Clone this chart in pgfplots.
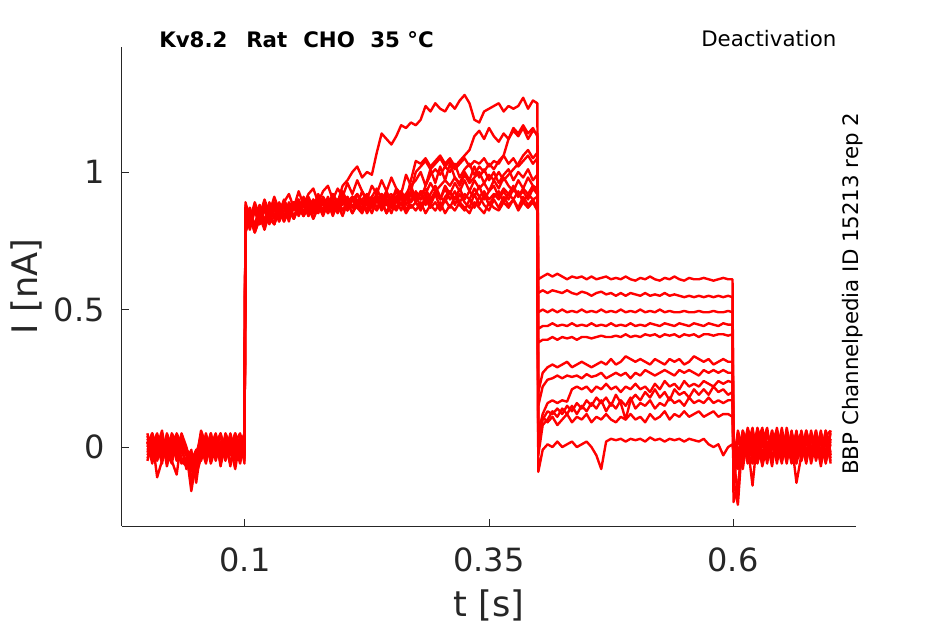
\documentclass[border=0pt]{standalone}
\usepackage{fontspec}
\setmainfont{DejaVu Sans}
\usepackage{pgfplots}
\usepackage{pgfplotstable}
\pgfplotsset{compat=1.18}
\definecolor{axgray}{RGB}{38,38,38}

\pgfplotstableread{
t y1 y2 y3 y4 y5 y6 y7 y8 y9 y10 y11 y12
0.000 0.03 -0.02 0.05 0.01 -0.04 0.02 -0.01 0.04 -0.03 0.00 0.02 -0.05
0.005 -0.01 0.04 -0.03 0.05 0.00 -0.06 0.03 -0.02 0.01 0.05 -0.04 0.02
0.010 0.02 -0.05 0.01 -0.02 0.04 0.03 -0.11 0.00 0.05 -0.03 0.01 -0.01
0.015 -0.04 0.01 0.04 -0.03 0.02 -0.01 -0.05 0.06 -0.02 0.03 -0.06 0.04
0.020 0.05 -0.03 -0.02 0.03 -0.05 0.04 0.00 -0.04 0.02 -0.01 0.03 -0.07
0.025 0.00 0.05 -0.06 0.02 0.03 -0.03 0.04 0.01 -0.05 0.04 -0.02 0.01
0.030 -0.02 0.02 0.03 -0.05 -0.01 0.05 -0.03 0.03 -0.10 0.01 0.04 -0.03
0.035 0.04 -0.04 0.00 0.04 -0.06 0.01 0.05 -0.02 0.03 -0.05 0.00 0.02
0.040 -0.03 -0.06 -0.02 -0.01 -0.04 -0.08 0.00 -0.05 -0.02 -0.07 -0.03 -0.01
0.045 -0.06 -0.02 -0.09 -0.04 -0.12 -0.03 -0.07 -0.01 -0.16 -0.05 -0.08 -0.03
0.050 -0.02 -0.08 -0.04 -0.10 -0.03 -0.06 -0.02 -0.13 -0.05 -0.01 -0.07 -0.04
0.055 0.03 -0.01 0.05 -0.04 0.02 0.04 -0.03 0.00 0.06 -0.02 0.01 -0.05
0.060 -0.05 0.03 -0.02 0.05 -0.01 -0.04 0.04 -0.06 0.01 0.03 -0.03 0.02
0.065 0.01 -0.04 0.04 -0.02 0.05 0.00 -0.05 0.03 -0.03 -0.06 0.05 -0.01
0.070 0.04 0.01 -0.05 0.03 -0.03 0.05 0.02 -0.02 0.04 0.00 -0.04 0.03
0.075 -0.03 0.05 0.02 -0.06 0.01 -0.02 -0.04 0.05 -0.07 0.04 0.02 -0.05
0.080 0.02 -0.02 -0.04 0.04 -0.05 0.03 0.05 -0.03 0.02 -0.04 0.00 0.04
0.085 -0.01 0.04 0.03 -0.03 0.04 -0.07 0.01 0.02 -0.01 0.05 -0.06 0.00
0.090 0.05 -0.05 0.01 0.02 -0.02 0.04 -0.03 -0.04 0.05 -0.02 0.03 -0.08
0.095 -0.02 0.02 -0.06 0.05 0.03 -0.01 0.04 0.01 -0.04 0.02 -0.05 0.03
0.0995 0.03 -0.04 0.02 -0.02 -0.05 0.04 -0.01 0.05 0.00 -0.03 0.04 -0.06
0.1005 0.89 0.82 0.79 0.88 0.78 0.87 0.83 0.80 0.86 0.78 0.85 0.81
0.105 0.83 0.87 0.84 0.81 0.85 0.82 0.87 0.84 0.81 0.83 0.79 0.84
0.110 0.87 0.80 0.86 0.86 0.79 0.89 0.80 0.78 0.88 0.80 0.86 0.78
0.115 0.84 0.88 0.81 0.83 0.86 0.84 0.88 0.83 0.83 0.84 0.81 0.83
0.120 0.89 0.82 0.87 0.88 0.81 0.90 0.82 0.86 0.87 0.79 0.87 0.80
0.125 0.83 0.87 0.83 0.84 0.85 0.85 0.89 0.81 0.82 0.85 0.82 0.85
0.130 0.88 0.83 0.81 0.87 0.87 0.91 0.84 0.87 0.89 0.81 0.88 0.81
0.135 0.85 0.89 0.87 0.82 0.82 0.86 0.88 0.83 0.84 0.87 0.83 0.86
0.140 0.90 0.84 0.83 0.89 0.86 0.89 0.83 0.88 0.88 0.82 0.89 0.82
0.145 0.86 0.88 0.88 0.85 0.88 0.92 0.89 0.82 0.83 0.86 0.84 0.87
0.150 0.89 0.83 0.84 0.88 0.83 0.87 0.86 0.89 0.89 0.83 0.87 0.83
0.155 0.86 0.89 0.87 0.90 0.87 0.93 0.90 0.84 0.85 0.88 0.85 0.88
0.160 0.91 0.85 0.89 0.85 0.84 0.88 0.85 0.88 0.90 0.84 0.89 0.84
0.165 0.87 0.90 0.84 0.89 0.89 0.92 0.91 0.85 0.85 0.89 0.84 0.87
0.170 0.90 0.85 0.88 0.86 0.85 0.94 0.87 0.90 0.89 0.83 0.88 0.83
0.175 0.87 0.89 0.90 0.91 0.88 0.89 0.92 0.85 0.86 0.87 0.86 0.88
0.180 0.91 0.86 0.85 0.88 0.90 0.93 0.88 0.89 0.90 0.85 0.90 0.84
0.185 0.88 0.91 0.89 0.86 0.85 0.95 0.87 0.86 0.85 0.89 0.86 0.89
0.190 0.92 0.86 0.87 0.90 0.89 0.90 0.92 0.90 0.89 0.84 0.88 0.85
0.195 0.89 0.90 0.90 0.87 0.86 0.94 0.88 0.86 0.86 0.89 0.85 0.88
0.200 0.95 0.88 0.86 0.91 0.90 0.91 0.93 0.91 0.90 0.86 0.90 0.84
0.205 0.97 0.91 0.89 0.87 0.87 0.96 0.89 0.87 0.86 0.89 0.86 0.89
0.210 1.00 0.87 0.91 0.90 0.91 0.92 0.91 0.91 0.91 0.85 0.90 0.85
0.215 1.02 0.92 0.87 0.92 0.88 0.97 0.88 0.88 0.87 0.90 0.87 0.88
0.220 0.98 0.89 0.90 0.88 0.86 0.93 0.93 0.87 0.90 0.86 0.85 0.90
0.225 1.00 0.86 0.92 0.91 0.91 0.90 0.89 0.92 0.86 0.89 0.89 0.85
0.230 0.99 0.91 0.88 0.89 0.87 0.95 0.91 0.88 0.91 0.85 0.87 0.88
0.235 1.07 0.89 0.91 0.92 0.90 0.92 0.94 0.91 0.87 0.90 0.91 0.86
0.240 1.14 0.92 0.88 0.87 0.92 0.97 0.90 0.87 0.90 0.86 0.88 0.89
0.245 1.12 0.88 0.92 0.91 0.88 0.93 0.93 0.92 0.85 0.89 0.90 0.85
0.250 1.10 0.91 0.89 0.92 0.91 0.98 0.89 0.88 0.90 0.85 0.87 0.88
0.255 1.13 0.89 0.93 0.89 0.89 0.94 0.94 0.91 0.87 0.90 0.91 0.86
0.260 1.17 0.92 0.90 0.93 0.92 0.92 0.90 0.93 0.91 0.86 0.88 0.89
0.265 1.16 0.90 0.92 0.90 0.90 0.99 0.92 0.88 0.86 0.91 0.92 0.85
0.270 1.18 0.97 0.89 0.93 0.93 0.95 0.95 0.92 0.90 0.87 0.89 0.88
0.275 1.17 1.04 0.92 1.00 0.89 0.97 0.90 0.89 0.92 0.89 0.93 0.86
0.280 1.19 1.03 0.90 1.02 0.92 1.00 0.93 0.93 0.87 0.86 0.90 0.89
0.285 1.24 1.05 0.95 1.04 0.94 0.95 0.92 0.88 0.91 0.90 0.92 0.85
0.290 1.22 1.02 0.99 1.01 0.90 1.01 0.96 0.92 0.88 0.87 0.89 0.88
0.295 1.25 1.04 1.01 1.03 0.93 0.96 0.93 0.95 0.92 0.89 0.93 0.86
0.300 1.23 1.06 0.99 1.05 0.95 1.02 0.90 0.91 0.87 0.86 0.90 0.89
0.305 1.22 1.03 1.02 1.02 0.97 0.97 0.95 0.89 0.91 0.90 0.94 0.85
0.310 1.25 1.05 1.00 1.04 0.95 1.03 0.92 0.93 0.93 0.87 0.90 0.88
0.315 1.23 1.02 1.03 1.01 0.98 0.98 0.96 0.90 0.88 0.91 0.93 0.86
0.320 1.26 1.04 0.98 1.03 0.95 0.96 0.93 0.94 0.92 0.88 0.89 0.89
0.325 1.28 1.06 1.01 1.05 0.99 1.00 0.97 0.90 0.89 0.86 0.92 0.87
0.330 1.25 1.08 1.03 1.02 0.96 0.97 0.93 0.93 0.87 0.90 0.90 0.85
0.335 1.19 1.13 0.99 1.04 0.98 1.02 0.97 0.91 0.92 0.87 0.94 0.89
0.340 1.18 1.15 1.02 1.03 1.00 0.98 0.94 0.95 0.88 0.91 0.91 0.87
0.345 1.22 1.12 1.00 1.05 0.96 1.01 0.96 0.90 0.92 0.88 0.93 0.85
0.350 1.23 1.16 1.03 1.02 0.99 0.97 0.93 0.93 0.88 0.86 0.90 0.89
0.355 1.24 1.13 1.01 1.04 0.97 1.00 0.97 0.95 0.91 0.90 0.92 0.87
0.360 1.25 1.11 1.04 1.03 1.00 0.96 0.94 0.91 0.93 0.87 0.90 0.86
0.365 1.22 1.14 1.06 1.06 0.97 0.99 0.98 0.94 0.89 0.91 0.93 0.89
0.370 1.24 1.12 1.12 1.03 0.99 1.01 0.95 0.92 0.92 0.88 0.90 0.87
0.375 1.23 1.15 1.16 1.05 1.01 0.97 0.93 0.95 0.90 0.90 0.94 0.90
0.380 1.24 1.13 1.14 1.02 1.03 1.00 0.97 0.91 0.93 0.87 0.91 0.86
0.385 1.27 1.16 1.17 1.04 1.06 0.98 0.94 0.94 0.89 0.91 0.93 0.89
0.390 1.23 1.12 1.14 1.06 1.08 1.01 0.98 0.92 0.92 0.88 0.90 0.87
0.395 1.26 1.15 1.16 1.03 1.05 0.97 0.95 0.95 0.90 0.90 0.94 0.89
0.3995 1.25 1.14 1.13 1.05 1.07 0.99 0.94 0.92 0.91 0.87 0.92 0.86
0.4005 0.61 0.56 0.49 0.43 0.38 0.20 0.15 0.05 0.00 -0.03 0.02 -0.09
0.405 0.62 0.57 0.50 0.44 0.39 0.27 0.22 0.12 0.10 0.08 0.11 -0.01
0.410 0.63 0.56 0.49 0.44 0.39 0.29 0.245 0.16 0.13 0.10 0.09 0.01
0.415 0.62 0.57 0.50 0.45 0.40 0.30 0.25 0.17 0.12 0.13 0.11 0.00
0.420 0.63 0.565 0.49 0.44 0.39 0.29 0.26 0.16 0.14 0.11 0.08 0.02
0.425 0.62 0.56 0.50 0.445 0.40 0.30 0.25 0.17 0.12 0.14 0.10 0.00
0.430 0.61 0.57 0.49 0.44 0.395 0.31 0.26 0.165 0.15 0.12 0.12 0.01
0.435 0.62 0.56 0.495 0.45 0.40 0.29 0.255 0.21 0.13 0.15 0.09 0.02
0.440 0.615 0.555 0.49 0.44 0.39 0.30 0.26 0.22 0.16 0.12 0.11 0.00
0.445 0.62 0.565 0.50 0.445 0.40 0.31 0.25 0.21 0.14 0.15 0.10 0.01
0.450 0.61 0.56 0.49 0.44 0.40 0.30 0.265 0.22 0.17 0.13 0.12 0.02
0.455 0.62 0.55 0.495 0.45 0.395 0.29 0.255 0.20 0.15 0.16 0.09 0.00
0.460 0.61 0.56 0.49 0.44 0.40 0.30 0.26 0.22 0.18 0.14 0.11 -0.03
0.465 0.615 0.565 0.50 0.445 0.405 0.31 0.27 0.21 0.16 0.17 0.10 -0.08
0.470 0.62 0.555 0.49 0.44 0.40 0.30 0.25 0.23 0.18 0.13 0.12 0.02
0.475 0.61 0.56 0.495 0.45 0.40 0.32 0.26 0.21 0.15 0.16 0.10 0.03
0.480 0.615 0.55 0.49 0.44 0.405 0.30 0.27 0.22 0.19 0.14 0.09 0.025
0.485 0.61 0.56 0.50 0.445 0.40 0.31 0.26 0.20 0.16 0.17 0.11 0.03
0.490 0.62 0.55 0.49 0.44 0.41 0.33 0.27 0.22 0.10 0.15 0.10 0.02
0.495 0.61 0.56 0.495 0.45 0.40 0.32 0.25 0.21 0.17 0.18 0.12 0.03
0.500 0.605 0.555 0.49 0.44 0.405 0.31 0.27 0.23 0.19 0.14 0.10 0.025
0.505 0.615 0.55 0.50 0.445 0.40 0.32 0.26 0.21 0.17 0.16 0.11 0.03
0.510 0.61 0.56 0.49 0.44 0.41 0.31 0.28 0.22 0.20 0.15 0.09 0.02
0.515 0.62 0.55 0.495 0.45 0.405 0.30 0.27 0.20 0.18 0.17 0.12 0.035
0.520 0.61 0.555 0.49 0.445 0.41 0.32 0.26 0.23 0.21 0.14 0.10 0.025
0.525 0.605 0.55 0.50 0.44 0.40 0.31 0.27 0.21 0.18 0.16 0.11 0.03
0.530 0.615 0.56 0.49 0.45 0.41 0.30 0.28 0.24 0.20 0.15 0.13 0.02
0.535 0.61 0.55 0.495 0.445 0.405 0.32 0.27 0.22 0.17 0.18 0.10 0.03
0.540 0.62 0.555 0.49 0.44 0.41 0.31 0.26 0.23 0.21 0.16 0.12 0.025
0.545 0.61 0.55 0.49 0.45 0.40 0.32 0.28 0.21 0.19 0.17 0.11 0.03
0.550 0.605 0.545 0.495 0.445 0.41 0.30 0.27 0.24 0.20 0.15 0.13 0.02
0.555 0.615 0.55 0.49 0.44 0.405 0.31 0.28 0.22 0.18 0.18 0.11 0.03
0.560 0.61 0.545 0.49 0.45 0.41 0.33 0.27 0.23 0.21 0.16 0.12 0.025
0.565 0.61 0.55 0.495 0.445 0.40 0.32 0.26 0.22 0.19 0.17 0.13 0.02
0.570 0.615 0.545 0.49 0.44 0.41 0.31 0.28 0.24 0.21 0.16 0.11 0.03
0.575 0.61 0.55 0.49 0.45 0.41 0.32 0.27 0.23 0.19 0.18 0.12 0.01
0.580 0.605 0.545 0.495 0.445 0.405 0.30 0.28 0.22 0.22 0.16 0.13 0.00
0.585 0.61 0.55 0.49 0.44 0.41 0.31 0.27 0.24 0.20 0.17 0.11 0.01
0.590 0.615 0.545 0.49 0.45 0.41 0.32 0.28 0.23 0.21 0.16 0.12 -0.03
0.595 0.61 0.55 0.495 0.445 0.405 0.31 0.27 0.24 0.19 0.17 0.12 0.00
0.5995 0.61 0.545 0.49 0.445 0.41 0.31 0.27 0.235 0.20 0.17 0.11 0.01
0.6005 -0.05 -0.12 0.02 -0.08 -0.20 0.01 -0.10 -0.03 -0.15 0.03 -0.06 -0.02
0.605 0.03 -0.21 -0.05 0.04 -0.14 -0.08 0.05 -0.18 0.00 -0.04 0.06 -0.07
0.610 -0.02 0.05 0.06 -0.06 0.02 0.04 -0.03 0.06 -0.08 0.05 -0.01 0.03
0.615 0.06 -0.03 0.01 0.05 -0.04 -0.02 0.07 -0.05 0.04 -0.06 0.03 0.00
0.620 -0.04 0.04 -0.14 0.02 0.05 -0.06 0.01 0.03 -0.02 0.06 -0.05 0.07
0.625 0.02 -0.06 0.04 -0.03 -0.01 0.06 -0.05 0.00 0.07 -0.03 0.04 -0.04
0.630 0.07 0.01 -0.03 0.06 0.03 -0.04 0.04 -0.06 0.01 0.02 -0.07 0.05
0.635 -0.03 0.06 0.05 -0.05 -0.06 0.02 -0.02 0.05 -0.04 0.07 0.01 -0.02
0.640 0.04 -0.04 -0.01 0.03 0.06 -0.07 0.06 -0.01 0.05 -0.05 0.04 0.02
0.645 -0.06 0.03 0.06 -0.02 -0.03 0.05 -0.04 0.07 -0.03 0.01 -0.02 0.06
0.650 0.05 -0.05 -0.04 0.07 0.01 -0.01 0.03 -0.04 0.06 -0.06 0.05 -0.03
0.655 -0.01 0.07 0.03 -0.04 0.05 0.04 -0.06 0.02 -0.05 0.04 -0.04 0.01
0.660 0.03 -0.02 -0.06 0.02 -0.05 -0.03 0.05 -0.03 0.03 -0.02 0.06 -0.05
0.665 -0.05 0.04 0.02 -0.13 0.03 0.06 -0.01 0.05 -0.06 0.05 -0.03 0.04
0.670 0.06 -0.03 0.05 -0.03 -0.04 -0.05 0.04 -0.05 0.02 -0.04 0.02 -0.01
0.675 -0.02 0.05 -0.05 0.04 0.06 0.02 -0.05 0.03 -0.03 0.06 -0.06 0.05
0.680 0.04 -0.06 0.03 -0.01 -0.02 -0.04 0.06 -0.02 0.05 -0.01 0.04 -0.04
0.685 -0.04 0.02 -0.02 0.06 0.04 0.05 -0.03 0.06 -0.05 0.03 -0.02 0.02
0.690 0.05 -0.04 0.06 -0.05 -0.06 -0.02 0.02 -0.04 0.03 -0.07 0.05 -0.03
0.695 -0.03 0.06 -0.04 0.03 0.02 0.04 -0.06 0.05 -0.02 0.04 -0.05 0.06
0.700 0.02 -0.02 0.05 -0.03 -0.05 0.06 0.03 -0.03 0.06 -0.04 0.01 -0.06
}\traces

\begin{document}
\begin{tikzpicture}
\useasboundingbox (-91.5pt,-73.5pt) rectangle (617.25pt,394.5pt);
\begin{axis}[
  at={(0pt,0pt)}, anchor=south west,
  scale only axis, width=550.5pt, height=359.25pt,
  xmin=-0.026, xmax=0.726, ymin=-0.287, ymax=1.4545,
  axis x line*=bottom, axis y line*=left,
  axis line style={axgray, line width=0.75pt},
  xtick={0.1,0.35,0.6}, ytick={0,0.5,1},
  tick align=inside, major tick length=5.25pt,
  every tick/.style={axgray, line width=0.75pt},
  /pgf/number format/assume math mode=true,
  ticklabel style={font=\fontsize{24}{28}\selectfont, text=axgray},
  xticklabel style={anchor=base, yshift=-34.3pt},
  yticklabel style={anchor=east, inner sep=0pt, xshift=-12.75pt},
  xlabel={t [s]}, ylabel={I [nA]},
  label style={font=\fontsize{26.4}{30}\selectfont, text=axgray},
  xlabel style={at={(axis description cs:0.5,0)}, anchor=base, yshift=-68pt, inner sep=0pt},
  ylabel style={at={(axis description cs:0,0.5)}, anchor=base, yshift=63.5pt, inner sep=0pt},
]
\pgfplotsinvokeforeach{1,...,12}{
  \addplot[red, line width=1.8pt, line join=round] table[x index=0, y index=#1] {\traces};
}
\end{axis}
\begin{scope}[every node/.style={inner sep=0pt}]
\node[anchor=base west, font=\fontsize{16}{19}\selectfont\bfseries] at (27.75pt,358.5pt) {Kv8.2};
\node[anchor=base west, font=\fontsize{16}{19}\selectfont\bfseries] at (93pt,358.5pt) {Rat};
\node[anchor=base west, font=\fontsize{16}{19}\selectfont\bfseries] at (135.75pt,358.5pt) {CHO};
\node[anchor=base west, font=\fontsize{16}{19}\selectfont\bfseries] at (186pt,358.5pt) {35 °C};
\node[anchor=base west, font=\fontsize{16}{19}\selectfont] at (434.25pt,359.25pt) {Deactivation};
\node[anchor=base west, rotate=90, font=\fontsize{16}{19}\selectfont] at (552pt,38.25pt) {BBP Channelpedia ID 15213 rep 2};
\end{scope}
\end{tikzpicture}
\end{document}
